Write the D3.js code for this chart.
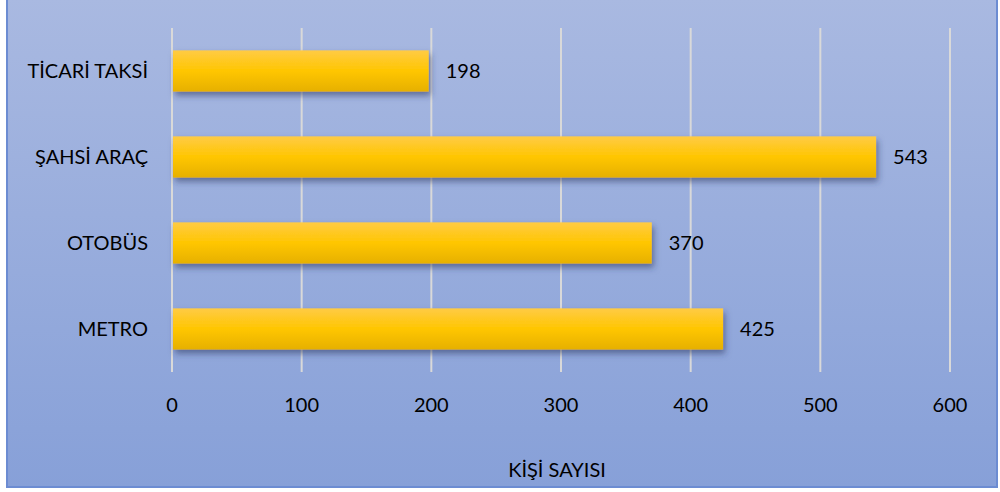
<!DOCTYPE html>
<html><head><meta charset="utf-8">
<script src="https://cdn.jsdelivr.net/npm/d3@7/dist/d3.min.js"></script>
<style>body{margin:0;background:#fff;}svg{display:block;font-family:Lato,"Open Sans",sans-serif;}</style>
</head><body>
<svg id="c" width="1000" height="492"></svg>
<script>
const categories = ["TİCARİ TAKSİ", "ŞAHSİ ARAÇ", "OTOBÜS", "METRO"];
const values = [198, 543, 370, 425];
const xTicks = [0, 100, 200, 300, 400, 500, 600];
const xTitle = "KİŞİ SAYISI";

const svg = d3.select("#c");
const defs = svg.append("defs");
const bg = defs.append("linearGradient").attr("id","bg").attr("x1",0).attr("y1",0).attr("x2",0).attr("y2",1);
bg.append("stop").attr("offset","0%").attr("stop-color","#A9B9E1");
bg.append("stop").attr("offset","100%").attr("stop-color","#87A0D8");
const bar = defs.append("linearGradient").attr("id","bar").attr("x1",0).attr("y1",0).attr("x2",0).attr("y2",1);
bar.append("stop").attr("offset","0%").attr("stop-color","#FFCB45");
bar.append("stop").attr("offset","50%").attr("stop-color","#FFC600");
bar.append("stop").attr("offset","100%").attr("stop-color","#E6B000");
const f = defs.append("filter").attr("id","sh").attr("x","-5%").attr("y","-20%").attr("width","110%").attr("height","160%");
f.append("feGaussianBlur").attr("in","SourceAlpha").attr("stdDeviation",3);
f.append("feOffset").attr("dx",2).attr("dy",4).attr("result","ob");
f.append("feFlood").attr("flood-color","#2a3560").attr("flood-opacity",0.55);
f.append("feComposite").attr("in2","ob").attr("operator","in");
const m = f.append("feMerge");
m.append("feMergeNode");
m.append("feMergeNode").attr("in","SourceGraphic");

svg.append("rect").attr("x",7).attr("y",-2).attr("width",990).attr("height",489)
  .attr("fill","url(#bg)").attr("stroke","#6C8CD2").attr("stroke-width",2);

const x = d3.scaleLinear().domain([0,600]).range([172,950]);
const y = d3.scaleBand().domain(categories).range([28,372]).paddingInner(0.52).paddingOuter(0.26);

svg.append("g").selectAll("line").data(xTicks).join("line")
  .attr("x1",d=>x(d)).attr("x2",d=>x(d)).attr("y1",28).attr("y2",372)
  .attr("stroke","#D9D9D9").attr("stroke-width",2);

svg.append("g").selectAll("rect").data(values).join("rect")
  .attr("x",x(0)+1).attr("y",(d,i)=>y(categories[i]))
  .attr("width",d=>x(d)-x(0)-1).attr("height",y.bandwidth())
  .attr("fill","url(#bar)").attr("filter","url(#sh)");

svg.append("g").selectAll("text").data(values).join("text")
  .attr("x",d=>x(d)+17).attr("y",(d,i)=>y(categories[i])+y.bandwidth()/2)
  .attr("dy","0.35em").attr("font-size",20).attr("fill","#000").text(d=>d);

svg.append("g").selectAll("text").data(categories).join("text")
  .attr("x",148).attr("y",d=>y(d)+y.bandwidth()/2).attr("dy","0.35em")
  .attr("text-anchor","end").attr("font-size",20).attr("fill","#000").text(d=>d);

svg.append("g").selectAll("text").data(xTicks).join("text")
  .attr("x",d=>x(d)).attr("y",405).attr("dy","0.35em")
  .attr("text-anchor","middle").attr("font-size",20).attr("fill","#000").text(d=>d);

svg.append("text").attr("x",(x(0)+x(600))/2-4).attr("y",470).attr("dy","0.35em")
  .attr("text-anchor","middle").attr("font-size",20).attr("fill","#000").text(xTitle);
</script>
</body></html>
